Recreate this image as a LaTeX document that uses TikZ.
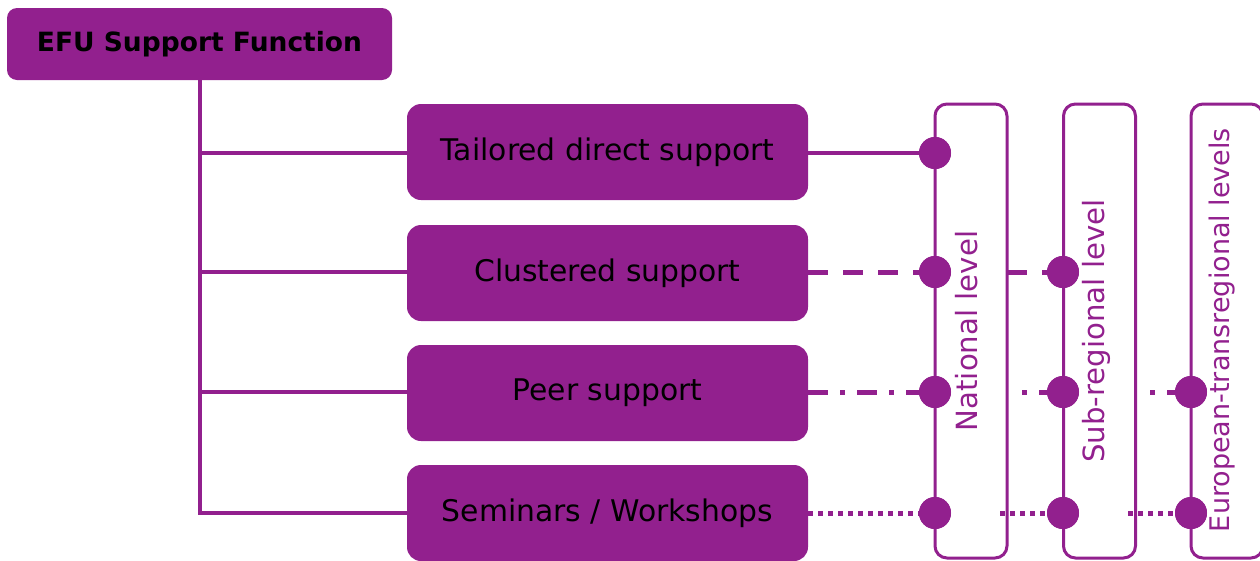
\documentclass[tikz,border=0pt]{standalone}
\usepackage{fontspec}
\setmainfont{DejaVu Sans}
\begin{document}
\begin{tikzpicture}[x=1pt,y=-1pt]
\definecolor{efu}{RGB}{146,32,142}
\tikzset{
  box/.style={fill=efu, rounded corners=14pt, minimum width=401pt, minimum height=96pt, inner sep=0pt, font=\fontsize{29.8}{34}\selectfont, text=black},
  topbox/.style={fill=efu, rounded corners=10pt, minimum width=385pt, minimum height=72pt, inner sep=0pt, font=\bfseries\fontsize{26.5}{30}\selectfont, text=black},
  lvl/.style={draw=efu, line width=3pt, rounded corners=12pt, minimum width=72pt, minimum height=454pt, inner sep=0pt},
  lvltext/.style={rotate=90, text=efu, font=\fontsize{29.2}{34}\selectfont, inner sep=0pt},
  tree/.style={draw=efu, line width=3.5pt},
  dot/.style={circle, fill=efu, minimum size=32pt, inner sep=0pt},
  solidc/.style={draw=efu, line width=4pt},
  dashc/.style={draw=efu, line width=5pt, dash pattern=on 20pt off 15pt},
  dashdotc/.style={draw=efu, line width=5pt, dash pattern=on 20pt off 12pt on 5pt off 12pt},
  dotc/.style={draw=efu, line width=5pt, dash pattern=on 5pt off 5pt},
}
\useasboundingbox (0,0) rectangle (1260,560);
% level boxes
\node[lvl] (nat) at (971,331) {};
\node[lvl] (sub) at (1099.5,331) {};
\node[lvl] (eur) at (1227,331) {};
\node[lvltext] (natt) at (967,331) {National level};
\node[lvltext] (subt) at (1096,331) {Sub-regional level};
\node[lvltext, font=\fontsize{27}{32}\selectfont] (eurt) at (1222,330) {European-transregional levels};
% top box
\node[topbox] (efu) at (199.5,44) {EFU Support Function};
% support boxes
\node[box] (tds) at (607.5,152) {Tailored direct support};
\node[box] (cls) at (607.5,273) {Clustered support};
\node[box] (prs) at (607.5,393) {Peer support};
\node[box] (sem) at (607.5,513) {Seminars / Workshops};
% tree
\coordinate (b1) at (200,153);
\coordinate (b2) at (200,272);
\coordinate (b3) at (200,392);
\coordinate (b4) at (200,513);
\draw[tree] (efu.south -| b1) -- (b4) -- (sem.west |- b4);
\draw[tree] (b1) -- (tds.west |- b1);
\draw[tree] (b2) -- (cls.west |- b2);
\draw[tree] (b3) -- (prs.west |- b3);
% dots
\node[dot] (d11) at (935,153) {};
\node[dot] (d21) at (935,272) {};
\node[dot] (d31) at (935,392) {};
\node[dot] (d41) at (935,513) {};
\node[dot] (d22) at (1063,272) {};
\node[dot] (d32) at (1063,392) {};
\node[dot] (d42) at (1063,513) {};
\node[dot] (d33) at (1191,392) {};
\node[dot] (d43) at (1191,513) {};
% connector start points
\coordinate (s22) at (1007,272);
\coordinate (s32) at (1022,392);
\coordinate (s42) at (1000,513);
\coordinate (s33) at (1150,392);
\coordinate (s43) at (1128,513);
% connectors
\draw[solidc] (tds.east |- d11) -- (d11.center);
\draw[dashc] (cls.east |- d21) -- (d21.center);
\draw[dashc] (s22) -- (d22.center);
\draw[dashdotc] (prs.east |- d31) -- (d31.center);
\draw[dashdotc, dash phase=32pt] (s32) -- (d32.center);
\draw[dashdotc, dash phase=32pt] (s33) -- (d33.center);
\draw[dotc] (sem.east |- d41) -- (d41.center);
\draw[dotc] (s42) -- (d42.center);
\draw[dotc] (s43) -- (d43.center);
% redraw dots on top
\foreach \d in {d11,d21,d31,d41,d22,d32,d42,d33,d43}{\fill[efu] (\d) circle (16pt);}
\end{tikzpicture}
\end{document}
